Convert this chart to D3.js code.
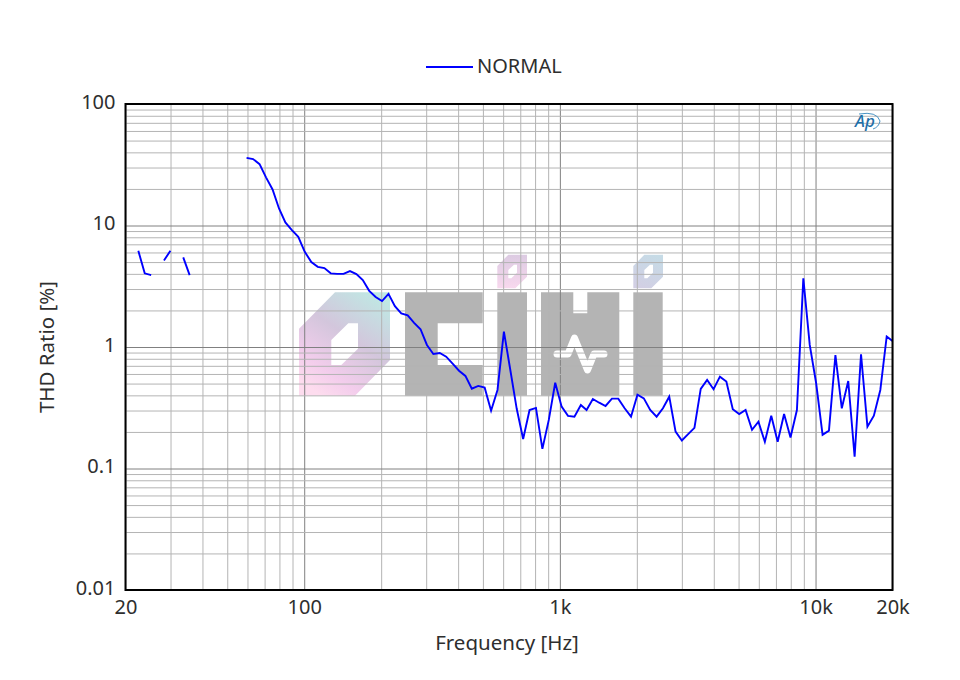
<!DOCTYPE html>
<html><head><meta charset="utf-8">
<script src="https://cdn.jsdelivr.net/npm/d3@7"></script>
<style>
html,body{margin:0;background:#fff}
svg{display:block}
text{font-family:"Noto Sans",sans-serif;fill:#2e2e2e}
</style></head><body>
<svg id="c" width="960" height="680"></svg>
<script>
const seriesName = "NORMAL";
const xTitle = "Frequency [Hz]";
const yTitle = "THD Ratio [%]";
const frequencies = [
20,21.19,22.45,23.78,25.2,26.7,28.28,29.97,31.75,33.64,35.64,37.76,
40,42.38,44.9,47.57,50.4,53.39,56.57,59.5,63.1,66.9,70.9,75.2,
79.7,84.4,89.5,94.8,100.5,106.6,113,119.9,127,134.5,142.5,151,
160,169.5,179.6,190.3,201.6,213.6,226.3,239.7,254,269.1,285.1,302,
320,339,359.2,380.6,403.2,427.1,452.5,479.5,508,538.2,570.2,604.1,
640,678,718.4,761.1,806.3,854.3,905.1,958.9,1016,1076,1140,1208,
1272,1346,1425,1509,1598,1692,1792,1898,2011,2130,2256,2390,
2530,2678,2835,3000,3175,3360,3556,3767,3991,4227,4479,4746,
5028,5326,5644,5979,6335,6711,7111,7533,7981,8456,8959,9491,
10056,10655,11283,11961,12668,13424,14219,15064,15958,16910,17922,18982,20000];
const thd = [
null,null,6.19,4.04,3.91,null,5.16,6.19,null,5.46,3.91,null,
null,null,null,null,null,null,null,36.0,35.2,32.0,24.9,19.8,
13.8,10.6,9.17,8.07,6.08,5.0,4.57,4.46,4.04,4.0,4.0,4.22,
3.98,3.56,2.90,2.58,2.39,2.74,2.17,1.89,1.82,1.58,1.40,1.04,
.875,.893,.832,.729,.638,.578,.454,.478,.463,.299,.443,1.34,
.647,.31,.175,.303,.315,.145,.251,.508,.323,.271,.267,.333,
.303,.373,.348,.327,.376,.376,.313,.267,.405,.378,.303,.267,
.313,.39,.201,.17,.192,.216,.452,.536,.449,.57,.519,.307,
.281,.303,.208,.243,.166,.272,.166,.281,.18,.303,3.67,1.04,
.503,.189,.205,.859,.313,.525,.125,.871,.221,.272,.443,1.22,1.12];
const xGridValues = [20,30,40,50,60,70,80,90,100,200,300,400,500,600,700,800,900,1000,2000,3000,4000,5000,6000,7000,8000,9000,10000,20000];
const yGridValues = [];
[0.01,0.1,1,10].forEach(d=>[1,2,3,4,5,6,7,8,9].forEach(m=>yGridValues.push(+(d*m).toPrecision(2))));
yGridValues.push(100);
const xMajor = [100,1000,10000];
const yMajor = [0.1,1,10];
const xLabelled = {20:"20",100:"100",1000:"1k",10000:"10k",20000:"20k"};
const yLabelled = {100:"100",10:"10",1:"1",0.1:"0.1",0.01:"0.01"};

const svg = d3.select("#c");
const L=125.5,R=892.5,T=104,B=590;
const x = d3.scaleLog().domain([20,20000]).range([L,R]);
const y = d3.scaleLog().domain([0.01,100]).range([B,T]);

// Watermark
const defs = svg.append("defs");
function grad(id,stops,x1,y1,x2,y2){
  const g=defs.append("linearGradient").attr("id",id).attr("x1",x1).attr("y1",y1).attr("x2",x2).attr("y2",y2);
  stops.forEach(s=>g.append("stop").attr("offset",s[0]).attr("stop-color",s[1]));
}
grad("gBig",[[0,"#bfe9e4"],[.45,"#d3c6dc"],[.8,"#f3cdec"],[1,"#fddcee"]],.85,0,.25,1);
grad("gPink",[[0,"#dccbe2"],[1,"#f8d8ee"]],.5,0,.5,1);
grad("gBlue",[[0,"#c6dbe6"],[1,"#d2cfe4"]],.7,0,.3,1);
const wm = svg.append("g");
const poly = p => "M"+p.map(q=>q.join(",")).join("L")+"Z";
wm.append("path").attr("fill","url(#gBig)").attr("fill-rule","evenodd")
  .attr("d",poly([[299,328.7],[335,292.3],[390,292.3],[390,360],[355,395.7],[299,395.7]])+poly([[331.3,340],[348.3,323.3],[358,323.3],[358,348.7],[341.3,365],[331.3,365]]));
function smallHex(dx,fill){
  wm.append("path").attr("fill",fill).attr("fill-rule","evenodd")
    .attr("d",poly([[497.3,266],[508.3,254.7],[527,254.7],[527,276.7],[515.3,288.3],[497.3,288.3]].map(p=>[p[0]+dx,p[1]]))
      +poly([[508.3,270],[514,264.7],[517,264.7],[517,272.7],[511.3,278.3],[508.3,278.3]].map(p=>[p[0]+dx,p[1]])));
}
smallHex(0,"url(#gPink)");
smallHex(136,"url(#gBlue)");
const grey="#b4b4b4";
wm.append("path").attr("fill",grey).attr("d",poly([[405,292.3],[482.7,292.3],[482.7,323.3],[437.7,323.3],[437.7,365],[482.7,365],[482.7,395.7],[405,395.7]]));
wm.append("rect").attr("fill",grey).attr("x",497.3).attr("y",292.3).attr("width",29.7).attr("height",103.4);
wm.append("path").attr("fill",grey).attr("d",poly([[541,292.3],[573.3,292.3],[573.3,313.3],[587.3,313.3],[587.3,292.3],[619.3,292.3],[619.3,395.7],[541,395.7]]));
wm.append("rect").attr("fill",grey).attr("x",633.3).attr("y",292.3).attr("width",29.4).attr("height",103.4);
wm.append("path").attr("fill","none").attr("stroke","#fff").attr("stroke-width",7).attr("stroke-linejoin","round").attr("stroke-linecap","round")
  .attr("d","M557,354L568,354L574.5,338L587.5,370L594,354L604,354");

// Grid via axes
const gx = svg.append("g").attr("transform",`translate(0,${B})`).call(
  d3.axisBottom(x).tickValues(xGridValues).tickSize(T-B).tickFormat(""));
gx.select(".domain").remove();
gx.selectAll("line").attr("stroke",d=>xMajor.includes(d)?"#808080":"#b4b4b4").attr("stroke-width",1);
const gy = svg.append("g").attr("transform",`translate(${L},0)`).call(
  d3.axisLeft(y).tickValues(yGridValues).tickSize(L-R).tickFormat(""));
gy.select(".domain").remove();
gy.selectAll("line").attr("stroke",d=>yMajor.includes(d)?"#808080":"#b4b4b4").attr("stroke-width",1);

// Tick labels
const lx = svg.append("g").attr("transform",`translate(0,${B})`).call(
  d3.axisBottom(x).tickValues(Object.keys(xLabelled).map(Number)).tickSize(0).tickPadding(10).tickFormat(d=>xLabelled[d]));
lx.select(".domain").remove();
lx.selectAll("text").style("font-size","20px").attr("dy","0.71em");
const ly = svg.append("g").attr("transform",`translate(${L},-2)`).call(
  d3.axisLeft(y).tickValues(Object.keys(yLabelled).map(Number)).tickSize(0).tickPadding(10).tickFormat(d=>yLabelled[d]));
ly.select(".domain").remove();
ly.selectAll("text").style("font-size","20px");

// Line
const pts = frequencies.map((f,i)=>({f,v:thd[i]}));
const line = d3.line().defined(d=>d.v!==null).x(d=>x(d.f)).y(d=>y(d.v));
svg.append("path").datum(pts).attr("fill","none").attr("stroke","#0000ff").attr("stroke-width",1.9).attr("d",line);

// Frame
svg.append("rect").attr("x",L).attr("y",T).attr("width",R-L).attr("height",B-T).attr("fill","none").attr("stroke","#000").attr("stroke-width",2);

// AP mark
const ap = svg.append("g").attr("transform","translate(865,121)");
ap.append("text").attr("text-anchor","middle").attr("y",6).style("font-size","17px").style("font-style","italic").style("font-weight","500").style("fill","#1f6fa8").text("Ap");
ap.append("path").attr("d","M-6,-7Q12,-10 15,0Q14,6 8,8").attr("fill","none").attr("stroke","#4a94c4").attr("stroke-width",1);

// Legend and titles
svg.append("line").attr("x1",426).attr("x2",473).attr("y1",67).attr("y2",67).attr("stroke","#0000ff").attr("stroke-width",1.9);
svg.append("text").attr("x",477).attr("y",73).style("font-size","20px").text(seriesName);
svg.append("text").attr("x",507).attr("y",650).attr("text-anchor","middle").style("font-size","20.5px").text(xTitle);
svg.append("text").attr("transform","translate(54,347) rotate(-90)").attr("text-anchor","middle").style("font-size","20.5px").text(yTitle);
</script>
</body></html>
